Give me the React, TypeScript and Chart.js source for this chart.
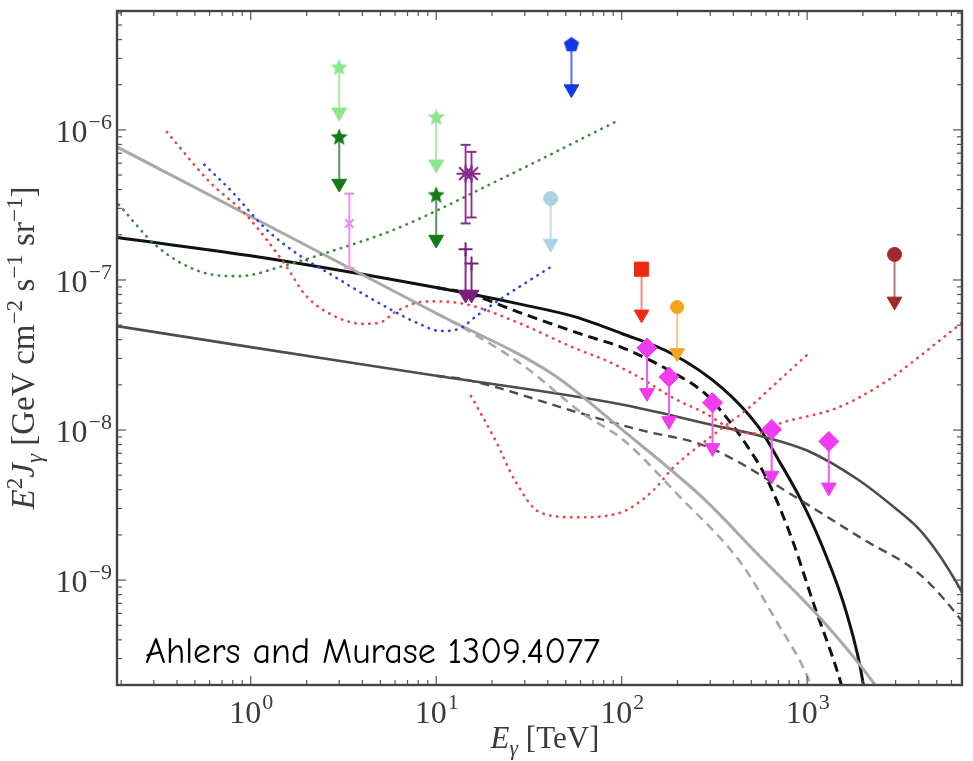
import React, { useEffect, useRef } from "react";
import { Chart, registerables } from "chart.js";

Chart.register(...registerables);

// ---------------- axes ----------------
const energyMin = 0.19; // TeV
const energyMax = 6840;
const fluxMin = 2.0e-10; // GeV cm^-2 s^-1 sr^-1
const fluxMax = 6.2e-6;

const xDecades = [1, 10, 100, 1000];
const xDecadeExponents = ["0", "1", "2", "3"];
const yDecades = [1e-9, 1e-8, 1e-7, 1e-6];
const yDecadeExponents = ["\u22129", "\u22128", "\u22127", "\u22126"];

const annotation = "Ahlers and Murase 1309.4077";

// ---------------- model curves ----------------
const blackSolidE = [0.19, 1, 10, 30, 55.6, 100, 189, 349, 549, 702, 929, 1202, 1633, 2011, 2150];
const blackSolidF = [1.92e-7, 1.45e-7, 8.9e-8, 6.8e-8, 5.7e-8, 4.4e-8, 3.2e-8, 1.9e-8, 1.04e-8, 6.3e-9, 3.4e-9, 1.7e-9, 6.0e-10, 2.0e-10, 1.0e-10];

const blackDashedE = [10, 14.4, 30, 60.5, 102, 182, 283, 380, 486, 605, 832, 1089, 1462, 1611];
const blackDashedF = [8.9e-8, 8.2e-8, 5.9e-8, 4.36e-8, 3.52e-8, 2.48e-8, 1.74e-8, 1.15e-8, 7.5e-9, 4.76e-9, 1.85e-9, 6.84e-10, 2.42e-10, 1.6e-10];

const graySolidE = [0.19, 1, 10, 43.5, 102, 283, 535, 1202, 2328, 2800];
const graySolidF = [7.7e-7, 2.65e-7, 6.0e-8, 2.31e-8, 9.9e-9, 3.4e-9, 1.51e-9, 5.43e-10, 2.0e-10, 1.4e-10];

const grayDashedE = [10, 14.4, 30, 60.5, 102, 201, 446, 684, 1000, 1110];
const grayDashedF = [6.0e-8, 4.7e-8, 2.65e-8, 1.31e-8, 8.6e-9, 3.7e-9, 1.27e-9, 5.3e-10, 2.3e-10, 1.6e-10];

const darkSolidE = [0.19, 1, 10, 100, 300, 549, 1000, 1868, 3000, 3990, 5000, 6280, 6840];
const darkSolidF = [4.93e-8, 3.57e-8, 2.3e-8, 1.48e-8, 1.09e-8, 9.2e-9, 7.3e-9, 4.7e-9, 3.0e-9, 2.2e-9, 1.55e-9, 1.0e-9, 8.3e-10];

const darkDashedE = [10, 14.4, 60.5, 130, 262, 409, 802, 2036, 3990, 6760, 7500];
const darkDashedF = [2.3e-8, 2.17e-8, 1.29e-8, 9.9e-9, 8.1e-9, 6.3e-9, 3.79e-9, 1.85e-9, 1.11e-9, 5.43e-10, 4.5e-10];

// ---------------- sensitivity curves (dotted) ----------------
const greenDotE = [0.194, 0.313, 0.53, 0.86, 1.59, 2.7, 6.12, 20.9, 96.4];
const greenDotF = [3.18e-7, 1.67e-7, 1.14e-7, 1.06e-7, 1.27e-7, 1.55e-7, 2.2e-7, 4.52e-7, 1.16e-6];

const blueDotE = [0.562, 0.792, 1.2, 1.8, 2.7, 4.09, 5.9, 7.83, 10.6, 13.6, 16.3, 22.7, 30.1, 41.9];
const blueDotF = [5.86e-7, 3.88e-7, 2.2e-7, 1.48e-7, 1.09e-7, 8.0e-8, 6.2e-8, 5.2e-8, 4.57e-8, 4.79e-8, 5.7e-8, 7.6e-8, 9.5e-8, 1.23e-7];

const redDotE = [0.353, 0.598, 0.94, 1.53, 1.96, 2.7, 4.09, 4.98, 6.12, 8.85, 14.4, 26.6, 55.6, 83.2, 126, 189, 283, 409, 535, 702, 1462, 2700, 4190, 6840];
const redDotF = [9.7e-7, 4.52e-7, 2.73e-7, 1.27e-7, 8.0e-8, 5.9e-8, 5.1e-8, 5.2e-8, 6.2e-8, 7.2e-8, 6.9e-8, 5.3e-8, 3.52e-8, 2.89e-8, 2.23e-8, 1.64e-8, 1.29e-8, 9.9e-9, 9.5e-9, 1.1e-8, 1.41e-8, 2.13e-8, 3.21e-8, 5.2e-8];

const redUDotE = [15.4, 20.9, 26.6, 36.2, 56.9, 96.4, 148, 189, 320, 486, 702, 1012];
const redUDotF = [1.69e-8, 8.5e-9, 4.6e-9, 2.83e-9, 2.62e-9, 2.79e-9, 3.96e-9, 5.6e-9, 9.5e-9, 1.41e-8, 2.13e-8, 3.21e-8];

// ---------------- upper limits (value, arrow tip) ----------------
const lightStarE = [3, 10];
const lightStarF = [2.62e-6, 1.22e-6];
const lightStarTip = [1.31e-6, 5.9e-7];

const darkStarE = [3, 10];
const darkStarF = [8.99e-7, 3.7e-7];
const darkStarTip = [4.39e-7, 1.86e-7];

const pentagonE = [53.6];
const pentagonF = [3.73e-6];
const pentagonTip = [1.87e-6];

const lightBlueE = [41.4];
const lightBlueF = [3.49e-7];
const lightBlueTip = [1.75e-7];

const squareE = [128];
const squareF = [1.18e-7];
const squareTip = [5.9e-8];

const orangeE = [199];
const orangeF = [6.6e-8];
const orangeTip = [3.26e-8];

const brownE = [2960];
const brownF = [1.48e-7];
const brownTip = [7.2e-8];

const diamondE = [137, 180, 309, 644, 1309];
const diamondF = [3.52e-8, 2.26e-8, 1.52e-8, 1.01e-8, 8.4e-9];
const diamondTip = [1.77e-8, 1.15e-8, 7.6e-9, 4.98e-9, 4.15e-9];

const purplePlusE = [14.4, 15.5];
const purplePlusF = [1.6e-7, 1.29e-7];
const purplePlusTip = [8.0e-8, 8.0e-8];

// ---------------- measurements with error bars ----------------
const pinkE = [3.4];
const pinkF = [2.38e-7];
const pinkHi = [3.76e-7];
const pinkLo = [1.2e-7];

const purpleE = [14.4, 15.5];
const purpleF = [5.11e-7, 5.11e-7];
const purpleHi = [7.95e-7, 7.14e-7];
const purpleLo = [2.38e-7, 2.61e-7];

// ---------------- helpers ----------------
const serif = "'Liberation Serif', 'DejaVu Serif', 'Times New Roman', serif";

function pts(E: number[], F: number[]) {
  return E.map((e, i) => ({ x: e, y: F[i] }));
}

function curve(label: string, E: number[], F: number[], color: string, width: number, dash: number[], dotted = false) {
  return {
    label,
    data: pts(E, F),
    borderColor: color,
    backgroundColor: color,
    borderWidth: width,
    borderDash: dash,
    borderCapStyle: dotted ? "round" : "butt",
    pointRadius: 0,
    pointHoverRadius: 0,
    cubicInterpolationMode: "monotone",
    fill: false,
    order: 10,
  };
}

function upperLimits(label: string, E: number[], F: number[], tip: number[], color: string, lineColor: string, marker: any, radius: number, markerBorder = 1) {
  const data: any[] = [];
  E.forEach((e, i) => {
    data.push({ x: e, y: F[i], k: "m" });
    data.push({ x: e, y: tip[i], k: "t" });
    data.push({ x: e, y: null, k: "g" });
  });
  const isTip = (c: any) => c.raw && c.raw.k === "t";
  return {
    label,
    data,
    borderColor: lineColor,
    borderWidth: 2,
    spanGaps: false,
    pointStyle: (c: any) => (isTip(c) ? "triangle" : marker),
    pointRotation: (c: any) => (isTip(c) ? 180 : 0),
    pointRadius: (c: any) => (c.raw && c.raw.k === "g" ? 0 : isTip(c) ? 8.5 : radius),
    pointBackgroundColor: color,
    pointBorderColor: color,
    pointBorderWidth: (c: any) => (isTip(c) ? 1 : markerBorder),
    order: 0,
  };
}

function errorBars(label: string, E: number[], F: number[], hi: number[], lo: number[], color: string, marker: string, radius: number) {
  const data: any[] = [];
  E.forEach((e, i) => {
    data.push({ x: e, y: hi[i], k: "c" });
    data.push({ x: e, y: F[i], k: "m" });
    data.push({ x: e, y: lo[i], k: "c" });
    data.push({ x: e, y: null, k: "g" });
  });
  const isCap = (c: any) => c.raw && c.raw.k === "c";
  return {
    label,
    data,
    borderColor: color,
    borderWidth: 1.8,
    spanGaps: false,
    pointStyle: (c: any) => (isCap(c) ? "line" : marker),
    pointRadius: (c: any) => (c.raw && c.raw.k === "g" ? 0 : isCap(c) ? 5 : radius),
    pointBackgroundColor: color,
    pointBorderColor: color,
    pointBorderWidth: 2,
    order: 1,
  };
}

function starImage(fill: string, r: number) {
  const s = Math.ceil(r * 2 + 2);
  const c = document.createElement("canvas");
  c.width = s;
  c.height = s;
  const g = c.getContext("2d")!;
  g.beginPath();
  for (let i = 0; i < 10; i++) {
    const a = -Math.PI / 2 + (i * Math.PI) / 5;
    const rr = i % 2 === 0 ? r : r * 0.45;
    g.lineTo(s / 2 + rr * Math.cos(a), s / 2 + 0.6 + rr * Math.sin(a));
  }
  g.closePath();
  g.fillStyle = fill;
  g.fill();
  return c;
}

function pentagonImage(fill: string, r: number) {
  const s = Math.ceil(r * 2 + 2);
  const c = document.createElement("canvas");
  c.width = s;
  c.height = s;
  const g = c.getContext("2d")!;
  g.beginPath();
  for (let i = 0; i < 5; i++) {
    const a = -Math.PI / 2 + (i * 2 * Math.PI) / 5;
    g.lineTo(s / 2 + r * Math.cos(a), s / 2 + 0.8 + r * Math.sin(a));
  }
  g.closePath();
  g.fillStyle = fill;
  g.fill();
  return c;
}

function logTicks(min: number, max: number) {
  const out: { value: number }[] = [];
  for (let n = Math.floor(Math.log10(min)); n <= Math.ceil(Math.log10(max)); n++) {
    for (let m = 1; m <= 9; m++) {
      const v = Number(`${m}e${n}`);
      if (v >= min * 0.9999 && v <= max * 1.0001) out.push({ value: v });
    }
  }
  return out;
}

function isDecade(v: number) {
  const l = Math.log10(v);
  return Math.abs(l - Math.round(l)) < 1e-6;
}

const frameAndTicks = {
  id: "frameAndTicks",
  afterDatasetsDraw(chart: any) {
    const { ctx, chartArea: a, scales } = chart;
    const xs = scales.x;
    const ys = scales.y;
    ctx.save();
    ctx.strokeStyle = "#555";
    ctx.lineWidth = 1.2;
    const seg = (x1: number, y1: number, x2: number, y2: number) => {
      ctx.beginPath();
      ctx.moveTo(x1, y1);
      ctx.lineTo(x2, y2);
      ctx.stroke();
    };
    xs.ticks.forEach((t: any) => {
      const p = xs.getPixelForValue(t.value);
      const L = isDecade(t.value) ? 9 : 5;
      seg(p, a.bottom, p, a.bottom - L);
      seg(p, a.top, p, a.top + L);
    });
    ys.ticks.forEach((t: any) => {
      const p = ys.getPixelForValue(t.value);
      const L = isDecade(t.value) ? 9 : 5;
      seg(a.left, p, a.left + L, p);
      seg(a.right, p, a.right - L, p);
    });
    ctx.strokeStyle = "#444";
    ctx.lineWidth = 2.4;
    ctx.strokeRect(a.left, a.top, a.right - a.left, a.bottom - a.top);

    // decade labels: "10" with raised exponent
    ctx.fillStyle = "#3a3a3a";
    const baseFont = `32px ${serif}`;
    const expFont = `22px ${serif}`;
    xDecades.forEach((d, i) => {
      const p = xs.getPixelForValue(d);
      ctx.font = baseFont;
      const wb = ctx.measureText("10").width;
      ctx.font = expFont;
      const we = ctx.measureText(xDecadeExponents[i]).width;
      const x0 = p - (wb + we) / 2;
      ctx.textAlign = "left";
      ctx.textBaseline = "alphabetic";
      ctx.font = baseFont;
      ctx.fillText("10", x0, a.bottom + 38);
      ctx.font = expFont;
      ctx.fillText(xDecadeExponents[i], x0 + wb + 1, a.bottom + 24);
    });
    yDecades.forEach((d, i) => {
      const p = ys.getPixelForValue(d);
      ctx.font = expFont;
      const we = ctx.measureText(yDecadeExponents[i]).width;
      const xr = a.left - 5;
      ctx.textAlign = "left";
      ctx.textBaseline = "alphabetic";
      ctx.fillText(yDecadeExponents[i], xr - we, p - 1);
      ctx.font = baseFont;
      const wb = ctx.measureText("10").width;
      ctx.fillText("10", xr - we - wb - 1, p + 12);
    });
    ctx.restore();
  },
};

export default function App() {
  const ref = useRef<HTMLCanvasElement | null>(null);

  useEffect(() => {
    if (!ref.current) return;
    const lightStar = starImage("#8de58d", 9);
    const darkStar = starImage("#157a15", 9);
    const pentagon = pentagonImage("#1538e6", 8);

    const datasets: any[] = [
      curve("green sensitivity", greenDotE, greenDotF, "#3f8a3f", 2.6, [0.5, 6.5], true),
      curve("blue sensitivity", blueDotE, blueDotF, "#3344dd", 2.6, [0.5, 6.5], true),
      curve("red sensitivity", redDotE, redDotF, "#e84848", 2.6, [0.5, 6.5], true),
      curve("red sensitivity 2", redUDotE, redUDotF, "#e84848", 2.6, [0.5, 6.5], true),
      curve("model light dashed", grayDashedE, grayDashedF, "#a8a8a8", 2.6, [9, 6]),
      curve("model light", graySolidE, graySolidF, "#a8a8a8", 3, []),
      curve("model dark dashed", darkDashedE, darkDashedF, "#4c4c4c", 2.4, [9, 6]),
      curve("model dark", darkSolidE, darkSolidF, "#4c4c4c", 2.6, []),
      curve("model black dashed", blackDashedE, blackDashedF, "#111", 3, [10, 6]),
      curve("model black", blackSolidE, blackSolidF, "#111", 3, []),
      errorBars("pink", pinkE, pinkF, pinkHi, pinkLo, "#ee88ee", "crossRot", 6),
      errorBars("purple", purpleE, purpleF, purpleHi, purpleLo, "#8a2a8a", "star", 9),
      upperLimits("purple limits", purplePlusE, purplePlusF, purplePlusTip, "#7a1f7a", "#8a2a8a", "cross", 7, 2),
      upperLimits("light green", lightStarE, lightStarF, lightStarTip, "#8de58d", "#a6eaa6", lightStar, 8),
      upperLimits("dark green", darkStarE, darkStarF, darkStarTip, "#157a15", "#5a9a5a", darkStar, 8),
      upperLimits("blue", pentagonE, pentagonF, pentagonTip, "#1538e6", "#5570e8", pentagon, 8),
      upperLimits("light blue", lightBlueE, lightBlueF, lightBlueTip, "#a9d3e3", "#bcdcea", "circle", 7),
      upperLimits("red", squareE, squareF, squareTip, "#f02a10", "#ee8f86", "rect", 10),
      upperLimits("orange", orangeE, orangeF, orangeTip, "#f3a51e", "#f4c985", "circle", 6.5),
      upperLimits("brown", brownE, brownF, brownTip, "#a3282a", "#c07070", "circle", 7),
      upperLimits("magenta", diamondE, diamondF, diamondTip, "#f03cf0", "#f25cf2", "rectRot", 10),
    ];

    const chart = new Chart(ref.current, {
      type: "line",
      data: { datasets },
      options: {
        animation: false,
        responsive: false,
        devicePixelRatio: 1,
        layout: { padding: { top: 9, right: 0, left: 0, bottom: 0 } },
        plugins: { legend: { display: false }, tooltip: { enabled: false } },
        scales: {
          x: {
            type: "logarithmic",
            min: energyMin,
            max: energyMax,
            grid: { display: false, drawTicks: false },
            border: { display: false },
            ticks: { display: false },
            afterBuildTicks: (s: any) => {
              s.ticks = logTicks(energyMin, energyMax);
            },
            afterFit: (s: any) => {
              s.height = 76;
            },
          },
          y: {
            type: "logarithmic",
            min: fluxMin,
            max: fluxMax,
            grid: { display: false, drawTicks: false },
            border: { display: false },
            ticks: { display: false },
            afterBuildTicks: (s: any) => {
              s.ticks = logTicks(fluxMin, fluxMax);
            },
            afterFit: (s: any) => {
              s.width = 117;
            },
          },
        },
      },
      plugins: [frameAndTicks],
    } as any);

    return () => chart.destroy();
  }, []);

  const sup = { fontSize: "0.7em", lineHeight: 0 } as const;

  return (
    <div style={{ position: "absolute", left: 0, top: 0, width: 973, height: 761, background: "#fff", overflow: "hidden" }}>
      <canvas ref={ref} width={973} height={761} style={{ display: "block" }} />
      <div
        style={{
          position: "absolute",
          left: 145,
          top: 634,
          fontFamily: "'Comic Sans MS', 'Comic Neue', 'DejaVu Sans', sans-serif",
          fontSize: 36,
          lineHeight: "36px",
          whiteSpace: "nowrap",
          color: "#000",
        }}
      >
        {annotation}
      </div>
      <div
        style={{
          position: "absolute",
          left: 395,
          top: 720,
          width: 300,
          textAlign: "center",
          fontFamily: serif,
          fontSize: 31,
          lineHeight: "36px",
          color: "#3a3a3a",
          whiteSpace: "nowrap",
        }}
      >
        <i>E</i>
        <sub style={sup}>
          <i>γ</i>
        </sub>{" "}
        [TeV]
      </div>
      <div
        style={{
          position: "absolute",
          left: -227,
          top: 328,
          width: 500,
          height: 40,
          textAlign: "center",
          fontFamily: serif,
          fontSize: 33,
          lineHeight: "40px",
          color: "#3a3a3a",
          whiteSpace: "nowrap",
          transform: "rotate(-90deg)",
        }}
      >
        <i>E</i>
        <sup style={sup}>2</sup>
        <i>J</i>
        <sub style={sup}>
          <i>γ</i>
        </sub>{" "}
        [GeV cm<sup style={sup}>−2</sup> s<sup style={sup}>−1</sup> sr<sup style={sup}>−1</sup>]
      </div>
    </div>
  );
}
